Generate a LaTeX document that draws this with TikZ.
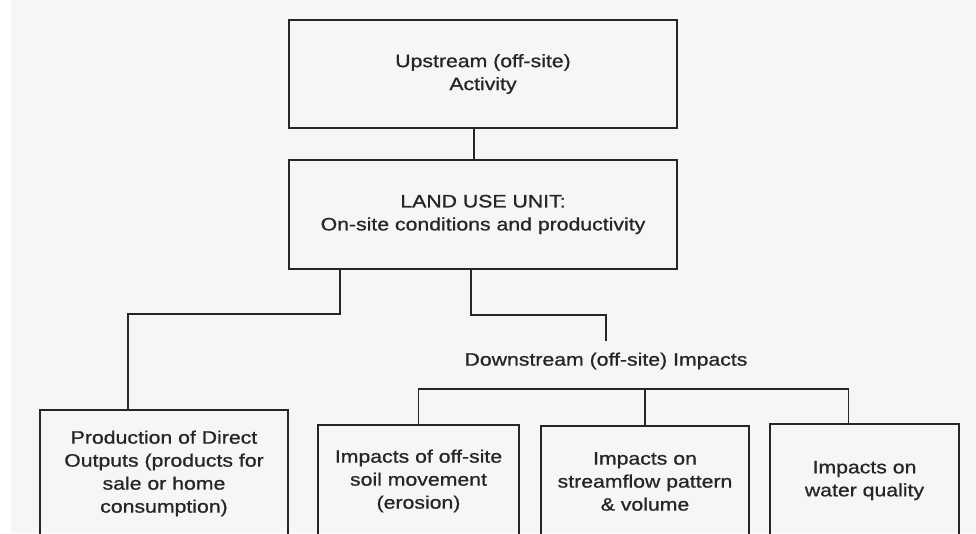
\documentclass[tikz,border=0pt]{standalone}
\usepackage{fontspec}
\setmainfont{Liberation Sans}[FakeStretch=1.18,FakeBold=0.9]
\usetikzlibrary{positioning,calc}

\begin{document}
\begin{tikzpicture}[
    x=1pt,y=-1pt,
    unit/.style={draw=black!85,line width=2pt,fill=none,
        inner sep=0pt,align=center,text=black!85,
        font=\fontsize{18}{23}\selectfont},
    link/.style={draw=black!85,line width=1.6pt,line join=miter}]
\useasboundingbox (0,0) rectangle (976,533);
\clip (0,0) rectangle (976,533);
\fill[gray!7] (11,0) rectangle (976,533);
% top of the chain
\node[unit,minimum width=388pt,minimum height=108pt] (up) at (483,74)
    {Upstream (off-site)\\Activity};
\node[unit,minimum width=388pt,minimum height=109pt] (land) at (483,214.5)
    {LAND USE UNIT:\\On-site conditions and productivity};
\draw[link] ([xshift=-9pt]up.south) -- ([xshift=-9pt]land.north);
% on-site branch
\node[unit,minimum width=248pt,minimum height=127pt] (prod) at (164,473.5)
    {Production of Direct\\Outputs (products for\\sale or home\\consumption)};
\draw[link] ([xshift=-143pt]land.south) -- ++(0,44) -| ([xshift=-36pt]prod.north);
% off-site branch
\node[inner sep=0pt,text=black!85,font=\fontsize{18}{23}\selectfont] (down) at (606,361)
    {Downstream (off-site) Impacts};
\draw[link] ([xshift=-12pt]land.south) -- ++(0,45) -| ([yshift=11pt]down.north);
\node[unit,minimum width=201pt,minimum height=112pt] (soil) at (418.5,481)
    {Impacts of off-site\\soil movement\\(erosion)};
\node[unit,minimum width=208pt,minimum height=111pt] (stream) at (645,481.5)
    {Impacts on\\streamflow pattern\\\& volume};
\node[unit,minimum width=189pt,minimum height=113pt] (water) at (864.5,480.5)
    {Impacts on\\water quality};
\draw[link] (soil.north) -- ++(0,-35) -| ([xshift=-16pt]water.north);
\draw[link] (stream.north) -- ++(0,-36);
\end{tikzpicture}
\end{document}
